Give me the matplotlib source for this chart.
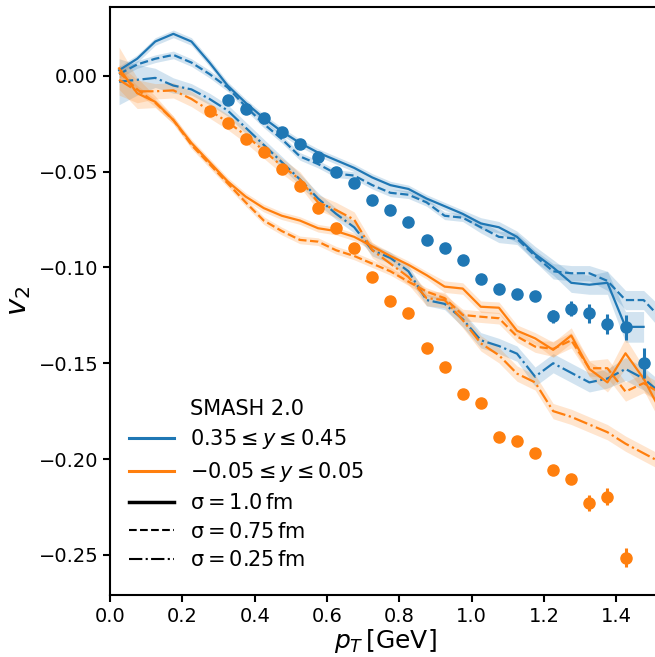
import numpy as np
import matplotlib
matplotlib.use("Agg")
import matplotlib.pyplot as plt
from matplotlib.lines import Line2D

# model p_T grid [GeV]
pt_model = [0.025, 0.075, 0.125, 0.175, 0.225, 0.275, 0.325, 0.375, 0.425, 0.475,
            0.525, 0.575, 0.625, 0.675, 0.725, 0.775, 0.825, 0.875, 0.925, 0.975,
            1.025, 1.075, 1.125, 1.175, 1.225, 1.275, 1.325, 1.375, 1.425, 1.475,
            1.525]

# 0.35 <= y <= 0.45 (blue)
blue_s = [0.003, 0.009, 0.018, 0.022, 0.018, 0.007, -0.005, -0.014, -0.022, -0.029,
          -0.035, -0.040, -0.044, -0.048, -0.053, -0.057, -0.059, -0.064, -0.068, -0.072,
          -0.077, -0.079, -0.084, -0.093, -0.100, -0.108, -0.109, -0.108, -0.131, -0.131]
blue_s_err = [0.002, 0.002, 0.002, 0.002, 0.002, 0.002, 0.002, 0.002, 0.002, 0.002,
              0.002, 0.002, 0.002, 0.002, 0.002, 0.002, 0.002, 0.002, 0.002, 0.002,
              0.003, 0.003, 0.003, 0.004, 0.004, 0.005, 0.005, 0.006, 0.008, 0.008]
blue_d = [0.001, 0.006, 0.009, 0.011, 0.007, 0.001, -0.006, -0.016, -0.025, -0.033,
          -0.042, -0.046, -0.051, -0.052, -0.057, -0.061, -0.062, -0.066, -0.073, -0.074,
          -0.079, -0.084, -0.085, -0.094, -0.102, -0.103, -0.103, -0.107, -0.117, -0.117,
          -0.127]
blue_d_err = [0.002, 0.002, 0.002, 0.002, 0.002, 0.002, 0.002, 0.002, 0.002, 0.002,
              0.002, 0.002, 0.002, 0.002, 0.002, 0.002, 0.002, 0.002, 0.002, 0.002,
              0.003, 0.003, 0.003, 0.003, 0.004, 0.004, 0.004, 0.005, 0.005, 0.005,
              0.006]
blue_dd = [-0.003, -0.002, -0.001, -0.005, -0.007, -0.012, -0.018, -0.027, -0.036, -0.045,
           -0.054, -0.064, -0.072, -0.079, -0.091, -0.095, -0.102, -0.117, -0.119, -0.127,
           -0.138, -0.141, -0.145, -0.157, -0.150, -0.155, -0.160, -0.158, -0.153, -0.158,
           -0.166]
blue_dd_err = [0.012, 0.008, 0.005, 0.004, 0.003, 0.003, 0.003, 0.003, 0.003, 0.003,
               0.003, 0.003, 0.003, 0.003, 0.003, 0.003, 0.003, 0.003, 0.003, 0.004,
               0.004, 0.004, 0.004, 0.005, 0.005, 0.005, 0.005, 0.005, 0.006, 0.006,
               0.006]

# -0.05 <= y <= 0.05 (orange)
orange_s = [0.004, -0.009, -0.0135, -0.023, -0.035, -0.045, -0.055, -0.063, -0.069, -0.073,
            -0.0755, -0.0795, -0.081, -0.084, -0.089, -0.094, -0.0986, -0.104, -0.110, -0.111,
            -0.1205, -0.121, -0.133, -0.137, -0.143, -0.1355, -0.153, -0.160, -0.1448, -0.158,
            -0.176]
orange_s_err = [0.011, 0.008, 0.003, 0.002, 0.002, 0.002, 0.002, 0.002, 0.002, 0.002,
                0.002, 0.002, 0.002, 0.002, 0.002, 0.002, 0.002, 0.002, 0.003, 0.003,
                0.003, 0.003, 0.003, 0.003, 0.004, 0.004, 0.004, 0.005, 0.008, 0.006,
                0.006]
orange_d = [0.002, -0.007, -0.014, -0.023, -0.036, -0.046, -0.056, -0.066, -0.0755, -0.081,
            -0.0856, -0.0865, -0.091, -0.094, -0.098, -0.102, -0.1074, -0.1126, -0.116, -0.1248,
            -0.1257, -0.1265, -0.136, -0.1413, -0.1425, -0.138, -0.1526, -0.1526, -0.1648, -0.1604,
            -0.166]
orange_d_err = [0.003, 0.002, 0.002, 0.002, 0.002, 0.002, 0.002, 0.002, 0.002, 0.002,
                0.002, 0.002, 0.002, 0.002, 0.002, 0.002, 0.002, 0.002, 0.002, 0.003,
                0.003, 0.003, 0.003, 0.003, 0.004, 0.004, 0.004, 0.005, 0.005, 0.005,
                0.005]
orange_dd = [-0.002, -0.008, -0.008, -0.0075, -0.012, -0.018, -0.024, -0.031, -0.039, -0.047,
             -0.054, -0.066, -0.070, -0.075, -0.091, -0.098, -0.105, -0.116, -0.117, -0.1275,
             -0.1396, -0.1458, -0.1554, -0.160, -0.175, -0.178, -0.182, -0.186, -0.192, -0.197,
             -0.202]
orange_dd_err = [0.008, 0.006, 0.004, 0.004, 0.004, 0.004, 0.004, 0.004, 0.004, 0.004,
                 0.004, 0.004, 0.004, 0.004, 0.004, 0.004, 0.004, 0.004, 0.004, 0.004,
                 0.004, 0.004, 0.004, 0.004, 0.004, 0.004, 0.004, 0.004, 0.004, 0.004,
                 0.004]

# data points
pt_blue = [0.325, 0.375, 0.425, 0.475, 0.525, 0.575, 0.625, 0.675, 0.725, 0.775,
           0.825, 0.875, 0.925, 0.975, 1.025, 1.075, 1.125, 1.175, 1.225, 1.275,
           1.325, 1.375, 1.425, 1.475]
v2_blue = [-0.0125, -0.0172, -0.0221, -0.0290, -0.0355, -0.0425, -0.0500, -0.0560, -0.0650, -0.0700,
           -0.0765, -0.0855, -0.0900, -0.0960, -0.1060, -0.1110, -0.1138, -0.1148, -0.1255, -0.1215,
           -0.1240, -0.1295, -0.1313, -0.1497]
v2_blue_err = [0.001, 0.001, 0.001, 0.001, 0.001, 0.001, 0.001, 0.001, 0.001, 0.001,
               0.001, 0.001, 0.001, 0.001, 0.0015, 0.0015, 0.002, 0.002, 0.0033, 0.004,
               0.0048, 0.0054, 0.0065, 0.0078]

pt_orange = [0.275, 0.325, 0.375, 0.425, 0.475, 0.525, 0.575, 0.625, 0.675, 0.725,
             0.775, 0.825, 0.875, 0.925, 0.975, 1.025, 1.075, 1.125, 1.175, 1.225,
             1.275, 1.325, 1.375, 1.425]
v2_orange = [-0.0183, -0.0248, -0.0330, -0.0395, -0.0488, -0.0575, -0.0690, -0.0795, -0.0900, -0.1049,
             -0.1174, -0.1240, -0.1420, -0.1519, -0.1660, -0.1710, -0.1886, -0.1905, -0.1970, -0.2056,
             -0.2105, -0.2229, -0.2198, -0.2515]
v2_orange_err = [0.001, 0.001, 0.001, 0.001, 0.001, 0.001, 0.001, 0.001, 0.001, 0.001,
                 0.001, 0.001, 0.001, 0.001, 0.001, 0.001, 0.001, 0.0015, 0.0015, 0.002,
                 0.0025, 0.004, 0.0044, 0.005]

BLUE = "#1f77b4"
ORANGE = "#ff7f0e"

fig = plt.figure(figsize=(6.55, 6.57), dpi=100)
# right spine sits just past the figure edge, as in the reference crop
ax = fig.add_axes([0.168, 0.0944, 0.840, 0.8949])

pt = np.array(pt_model)
curves = [
    (blue_s, blue_s_err, BLUE, "-"),
    (blue_d, blue_d_err, BLUE, "--"),
    (blue_dd, blue_dd_err, BLUE, "-."),
    (orange_s, orange_s_err, ORANGE, "-"),
    (orange_d, orange_d_err, ORANGE, "--"),
    (orange_dd, orange_dd_err, ORANGE, "-."),
]
for vals, errs, col, ls in curves:
    v = np.array(vals)
    e = np.array(errs)
    x = pt[:len(v)]
    ax.fill_between(x, v - e, v + e, color=col, alpha=0.2, lw=0)
    ax.plot(x, v, color=col, ls=ls, lw=1.6)

ax.errorbar(pt_blue, v2_blue, yerr=v2_blue_err, fmt="o", color=BLUE,
            ms=8, elinewidth=2.2, capsize=0)
ax.errorbar(pt_orange, v2_orange, yerr=v2_orange_err, fmt="o", color=ORANGE,
            ms=8, elinewidth=2.2, capsize=0)

ax.set_xlim(0, 1.521)
ax.set_ylim(-0.271, 0.036)
ax.set_xticks([0.0, 0.2, 0.4, 0.6, 0.8, 1.0, 1.2, 1.4])
ax.set_yticks([0.0, -0.05, -0.10, -0.15, -0.20, -0.25])
ax.tick_params(labelsize=14, width=1.5, length=5)
for sp in ax.spines.values():
    sp.set_linewidth(1.5)

ax.set_xlabel(r"$p_T\,[\mathrm{GeV}]$", fontsize=18, labelpad=1)
ax.set_ylabel(r"$v_2$", fontsize=21, labelpad=4)

handles = [
    Line2D([], [], color="none"),
    Line2D([], [], color=BLUE, lw=2.2),
    Line2D([], [], color=ORANGE, lw=2.2),
    Line2D([], [], color="black", lw=2.5, ls="-"),
    Line2D([], [], color="black", lw=1.5, ls="--"),
    Line2D([], [], color="black", lw=1.5, ls="-."),
]
labels = [
    "SMASH 2.0",
    r"$0.35 \leq y \leq 0.45$",
    r"$-0.05 \leq y \leq 0.05$",
    r"$\mathregular{\sigma} = 1.0\,\mathrm{fm}$",
    r"$\mathregular{\sigma} = 0.75\,\mathrm{fm}$",
    r"$\mathregular{\sigma} = 0.25\,\mathrm{fm}$",
]
ax.legend(handles, labels, loc="lower left", frameon=False, fontsize=15,
          handlelength=2.15, labelspacing=0.42, bbox_to_anchor=(0.0, 0.01))

fig.savefig("out.png", dpi=100)
